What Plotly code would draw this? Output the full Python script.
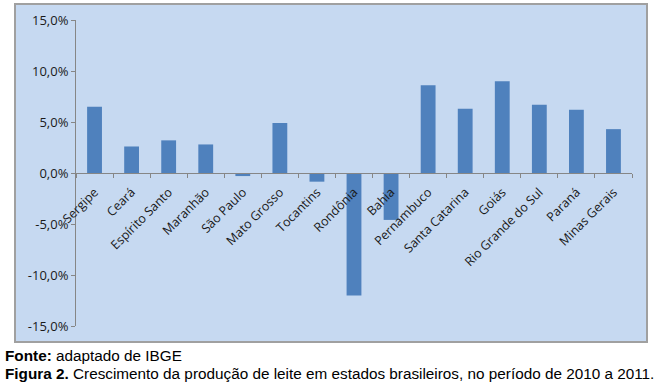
import plotly.graph_objects as go

estados = ["Sergipe", "Ceará", "Espírito Santo", "Maranhão", "São Paulo", "Mato Grosso",
           "Tocantins", "Rondônia", "Bahia", "Pernambuco", "Santa Catarina", "Goiás",
           "Rio Grande do Sul", "Paraná", "Minas Gerais"]
crescimento = [6.5, 2.6, 3.2, 2.8, -0.3, 4.9, -0.85, -12.0, -4.6, 8.6, 6.3, 9.0, 6.7, 6.2, 4.3]
y_ticks = [15, 10, 5, 0, -5, -10, -15]
y_ticktext = ["15,0%", "10,0%", "5,0%", "0,0%", "-5,0%", "-10,0%", "-15,0%"]

W, H = 660, 390
L, R, T, B = 76, 28, 20, 64
pw, ph = W - L - R, H - T - B

def px(x):
    return (x - L) / pw

def py(y):
    return (H - B - y) / ph

fig = go.Figure()
fig.add_trace(go.Bar(x=estados, y=crescimento, marker=dict(color="#4f81bd", line=dict(width=0)),
                     width=0.4, showlegend=False, hoverinfo="skip"))

fig.update_layout(
    width=W, height=H,
    margin=dict(l=L, r=R, t=T, b=B),
    paper_bgcolor="white",
    plot_bgcolor="rgba(0,0,0,0)",
    font=dict(family="Open Sans, Liberation Sans, sans-serif", color="#1a1a1a"),
    shapes=[dict(type="rect", xref="paper", yref="paper",
                 x0=px(15), x1=px(647), y0=py(342), y1=py(4),
                 fillcolor="#c6d9f1", line=dict(color="#a0a0a0", width=2), layer="below")],
    xaxis=dict(type="category", anchor="free", position=0.5,
               showline=True, linecolor="#868686", linewidth=1,
               ticks="outside", tickson="boundaries", ticklen=4, tickcolor="#868686",
               tickangle=-45, tickfont=dict(size=12.5, color="#1a1a1a"),
               ticklabelstandoff=6,
               showgrid=False, zeroline=False),
    yaxis=dict(range=[-15, 15], tickvals=y_ticks, ticktext=y_ticktext,
               showline=True, linecolor="#868686", linewidth=1,
               ticks="outside", ticklen=4, tickcolor="#868686",
               tickfont=dict(size=13, color="#1a1a1a"),
               showgrid=False, zeroline=False),
    annotations=[
        dict(xref="paper", yref="paper", x=px(3), y=py(355), xanchor="left", yanchor="middle",
             text="<b>Fonte:</b> adaptado de IBGE", showarrow=False,
             font=dict(family="Liberation Sans, Arial, sans-serif", size=15.3, color="black")),
        dict(xref="paper", yref="paper", x=px(3), y=py(374), xanchor="left", yanchor="middle",
             text="<b>Figura 2.</b> Crescimento da produção de leite em estados brasileiros, no período de 2010 a 2011.",
             showarrow=False,
             font=dict(family="Liberation Sans, Arial, sans-serif", size=15.3, color="black")),
    ],
)

fig.write_html("out.html", config={"displayModeBar": False},
               post_script="document.body.style.margin='0';")
